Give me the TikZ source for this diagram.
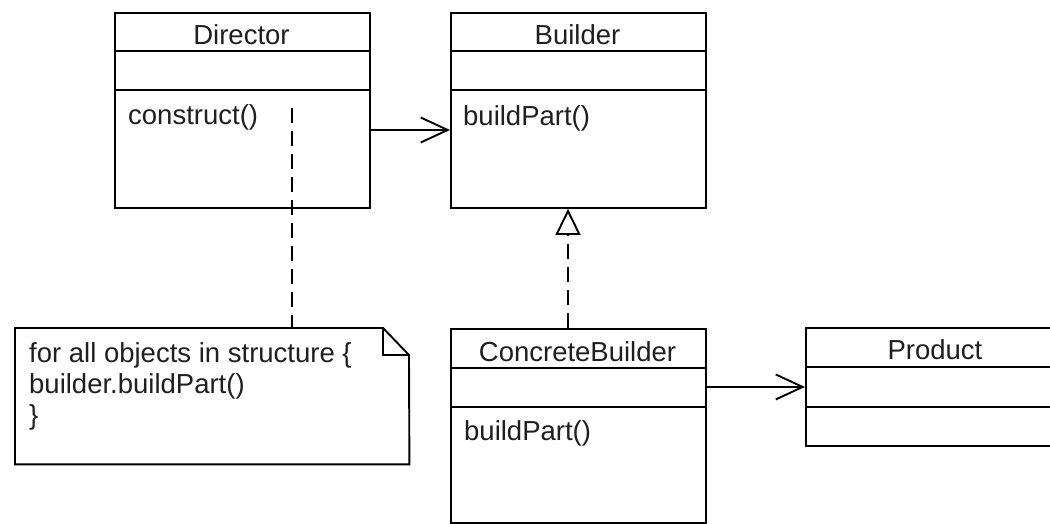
\documentclass[tikz,border=0pt]{standalone}
\usepackage{fontspec}
\setmainfont{Liberation Sans}
\usetikzlibrary{arrows.meta,calc}
\begin{document}
\begin{tikzpicture}[x=1pt,y=-1pt,
  classbox/.style={draw, line width=1.9pt, rectangle, anchor=north west, inner sep=0pt, minimum width=255pt},
  shadowbox/.style={rectangle, anchor=north west, inner sep=0pt},
  lbl/.style={inner sep=0pt, font=\fontsize{27.5}{31}\selectfont, text=black!88},
  title/.style={lbl, anchor=base},
  member/.style={lbl, anchor=base west},
  sep/.style={line width=1.9pt},
  assoc/.style={line width=1.9pt, -{Straight Barb[length=27pt,width=25pt,line width=1.9pt]}},
  inherit/.style={line width=1.9pt, dash pattern=on 15pt off 8pt, -{Triangle[open,length=26pt,width=25pt,line width=1.9pt,fill=white]}},
  notelink/.style={line width=1.9pt, dash pattern=on 15pt off 8pt},
  outline/.style={line width=1.9pt, line join=miter}
]
\useasboundingbox[fill=white] (0,0) rectangle (1050,523);

% Director
\node[classbox, minimum height=195pt] (director) at (114,12) {};
\draw[sep] (114,51) -- (369,51);
\draw[sep] (114,90) -- (369,90);
\node[title] (directorT) at (241.5,44) {Director};
\node[member] (directorM) at (128,124) {construct()};

% Builder
\node[classbox, minimum height=195pt] (builder) at (450,12) {};
\draw[sep] (450,51) -- (705,51);
\draw[sep] (450,90) -- (705,90);
\node[title] (builderT) at (577.5,44) {Builder};
\node[member] (builderM) at (463,125) {buildPart()};

% ConcreteBuilder
\node[classbox, minimum height=194pt] (cb) at (450,328) {};
\draw[sep] (450,368) -- (705,368);
\draw[sep] (450,407) -- (705,407);
\node[title] (cbT) at (577.5,361) {ConcreteBuilder};
\node[member] (cbM) at (464,440) {buildPart()};

% Product
\node[classbox, minimum width=262pt, minimum height=118pt] (product) at (805,327) {};
\draw[sep] (805,367) -- (1067,367);
\draw[sep] (805,407) -- (1067,407);
\node[title] (productT) at (935,359) {Product};

% Note
\node[shadowbox, minimum width=394pt, minimum height=136pt] (note) at (15,328) {};
\draw[outline] (note.north west) -- ++(368,0) -- ++(26,27) -- (note.south east) -- (note.south west) -- cycle;
\draw[outline] ($(note.north west)+(368,0)$) -- ++(0,27) -- ++(26,0);
\node[member] (note1) at (29,362) {for all objects in structure \{};
\node[member] (note2) at (29,393) {builder.buildPart()};
\node[member] (note3) at (29,424) {\}};

% Connectors
\coordinate (arrowy) at (0,130);
\draw[assoc] (director.east |- arrowy) -- (builder.west |- arrowy);
\draw[assoc] (cb.east |- product.west) -- (product.west);
\coordinate (inhx) at (568,0);
\draw[inherit] (inhx |- cb.north) -- (inhx |- builder.south);
\coordinate (dstart) at (292,108);
\draw[notelink] (dstart) -- (dstart |- note.north);
\end{tikzpicture}
\end{document}
